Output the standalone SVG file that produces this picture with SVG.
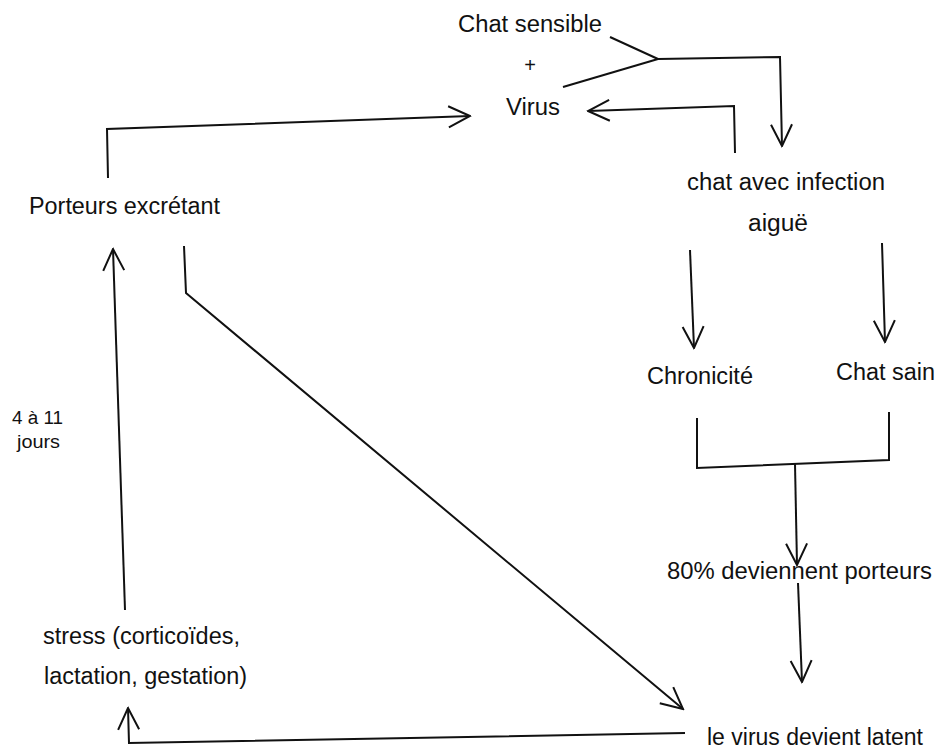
<svg xmlns="http://www.w3.org/2000/svg" width="936" height="754" viewBox="0 0 936 754">
<defs>
<marker id="ah" viewBox="0 0 24 24" refX="22.5" refY="12" markerWidth="24" markerHeight="24" markerUnits="userSpaceOnUse" orient="auto">
<path d="M1,1.5 L22.5,12 L1,22.5" fill="none" stroke="#111" stroke-width="2"/>
</marker>
<style>
text{font-family:"Liberation Sans",Arial,sans-serif;font-size:23.5px;fill:#111}
.s{font-size:18px}
.c{stroke:#111;stroke-width:2;fill:none}
.a{marker-end:url(#ah)}
</style>
</defs>
<rect width="936" height="754" fill="#fff"/>
<g id="n-chat-sensible"><text x="458" y="32" textLength="144" lengthAdjust="spacingAndGlyphs">Chat sensible</text><text x="530" y="72" text-anchor="middle" style="font-size:20px">+</text><text x="506" y="115" textLength="54" lengthAdjust="spacingAndGlyphs">Virus</text></g>
<g id="n-porteurs"><text x="29" y="214" textLength="191" lengthAdjust="spacingAndGlyphs">Porteurs excrétant</text></g>
<g id="n-aigue"><text x="687" y="190" textLength="198" lengthAdjust="spacingAndGlyphs">chat avec infection</text><text x="748" y="231" textLength="60" lengthAdjust="spacingAndGlyphs">aiguë</text></g>
<g id="n-chronicite"><text x="647" y="384" textLength="106" lengthAdjust="spacingAndGlyphs">Chronicité</text></g>
<g id="n-chat-sain"><text x="836" y="380" textLength="99" lengthAdjust="spacingAndGlyphs">Chat sain</text></g>
<g id="n-80"><text x="667" y="579" textLength="265" lengthAdjust="spacingAndGlyphs">80% deviennent porteurs</text></g>
<g id="n-latent"><text x="707" y="745" textLength="216" lengthAdjust="spacingAndGlyphs">le virus devient latent</text></g>
<g id="n-stress"><text x="43" y="644" textLength="197" lengthAdjust="spacingAndGlyphs">stress (corticoïdes,</text><text x="44" y="684" textLength="203" lengthAdjust="spacingAndGlyphs">lactation, gestation)</text></g>
<g id="n-jours"><text class="s" x="12" y="424" textLength="51" lengthAdjust="spacingAndGlyphs">4 à 11</text><text class="s" x="17" y="448" textLength="43" lengthAdjust="spacingAndGlyphs">jours</text></g>
<g id="connectors">
<path class="c" d="M610,37 L658,59"/>
<path class="c" d="M563,87 L658,59"/>
<path class="c a" d="M658,59 L780,57 L782,146"/>
<path class="c a" d="M735,153 L734,106 L588,111"/>
<path class="c a" d="M108,178 L107,129 L470,116"/>
<path class="c a" d="M690,250 L694,348"/>
<path class="c a" d="M882,243 L885,342"/>
<path class="c" d="M697,418 L697,468 L889,460 L889,412"/>
<path class="c a" d="M795,464 L797,565"/>
<path class="c a" d="M798,583 L802,682"/>
<path class="c a" d="M184,246 L186,293 L683,709"/>
<path class="c a" d="M685,733 L129,743 L128,708"/>
<path class="c a" d="M125,610 L113,249"/>
</g>
</svg>
